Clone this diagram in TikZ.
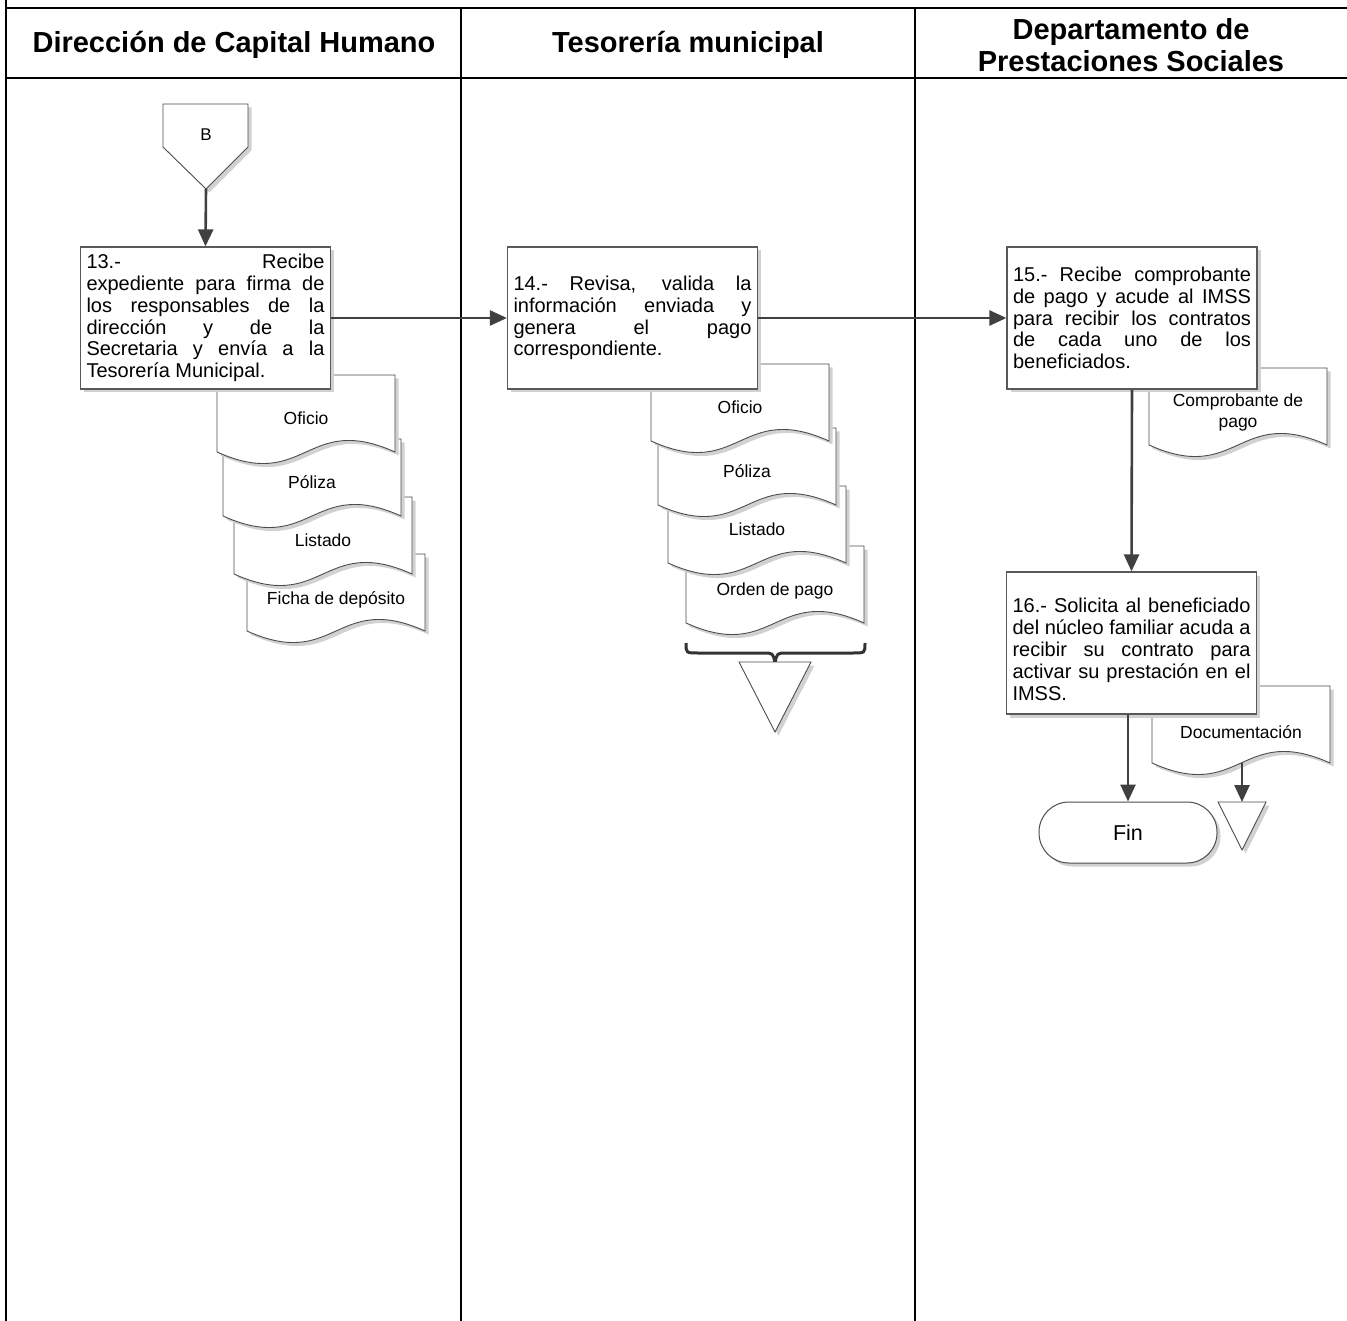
\documentclass[tikz,border=0pt]{standalone}
\usepackage{fontspec}
\setmainfont{Liberation Sans}
\usetikzlibrary{arrows.meta,shadows,calc}
\newcommand{\docu}[5][43]{%
  \begin{scope}[shift={(#3,#4)}]
    \path[docst] (0,0) -- (178,0) -- (178,77) .. controls (89,37) and (89,117) .. (0,77) -- cycle;
    \node[doclab] (#2) at (89,#1) {#5};
  \end{scope}}
\begin{document}
\begin{tikzpicture}[x=1pt,y=-1pt,
  lane/.style={line width=2.6pt,draw=black},
  shad/.style={drop shadow={shadow xshift=3.5pt,shadow yshift=-3.5pt,fill=black!18,opacity=1}},
  box/.style={draw=black!65,line width=1.2pt,fill=white,minimum width=250pt,minimum height=142pt,
    text width=238pt,inner xsep=6pt,align=justify,font=\fontsize{20}{21.8}\selectfont,shad},
  docst/.style={draw=black!70,line width=0.9pt,fill=white,shad},
  doclab/.style={font=\fontsize{17.5}{21}\selectfont,align=center},
  arr/.style={draw=black!75,line width=2.6pt,-{Triangle[length=17pt,width=15pt]}},
  brace/.style={draw=black!80,line width=3pt},
  head/.style={font=\fontsize{29}{32}\selectfont\bfseries,align=center}
]
\useasboundingbox (0,0) rectangle (1347,1321);

% frame
\draw[lane] (6,0) -- (6,1321);
\draw[lane] (6,8) -- (1347,8);
\draw[lane] (6,78) -- (1347,78);
\draw[lane] (461,8) -- (461,1321);
\draw[lane] (915,8) -- (915,1321);

% headers
\node[head] (h1) at (234,45) {Dirección de Capital Humano};
\node[head] (h2) at (688,45) {Tesorería municipal};
\node[head] (h3) at (1131,45) {Departamento de\\Prestaciones Sociales};

% off-page connector B
\path[docst] (163,104) -- (248,104) -- (248,147) -- (206,189) -- (163,147) -- cycle;
\node[font=\fontsize{17}{19}\selectfont] (B) at (206,135) {B};
\coordinate (Btip) at (206,189);

% lane 1 documents
\docu[46]{d1d}{247}{554}{Ficha de depósito}
\docu{d1c}{234}{497}{Listado}
\docu{d1b}{223}{439}{Póliza}
\docu{d1a}{217}{375}{Oficio}

% lane 2 documents
\docu[45]{d2d}{686}{546}{Orden de pago}
\docu{d2c}{668}{486}{Listado}
\docu{d2b}{658}{428}{Póliza}
\docu{d2a}{651}{364}{Oficio}
\path[brace] (686,643) .. controls (686,653) .. (698,653) -- (763,653)
  .. controls (773,653) .. (775,663) .. controls (777,653) .. (787,653) -- (853,653)
  .. controls (865,653) .. (865,643);
\path[docst] (739,662) -- (811,662) -- (775,732) -- cycle;
\coordinate (tri1) at (775,662);

% lane 3 documents
\docu[44]{d3a}{1149}{368}{Comprobante de\\pago}
\docu[46]{d3b}{1152}{686}{Documentación}
\coordinate (docend) at (1242,763);
\path[docst] (1218,802) -- (1266,802) -- (1242,850) -- cycle;
\coordinate (tri2) at (1242,802);

% process boxes
\node[box] (b13) at (205.5,318) {13.- Recibe\linebreak expediente para firma de\linebreak los responsables de la\linebreak dirección y de la\linebreak Secretaria y envía a la\linebreak Tesorería Municipal.};
\node[box] (b14) at (632.5,318) {14.- Revisa, valida la\linebreak información enviada y\linebreak genera el pago\linebreak correspondiente.};
\node[box] (b15) at (1132,318) {15.- Recibe comprobante\linebreak de pago y acude al IMSS\linebreak para recibir los contratos\linebreak de cada uno de los\linebreak beneficiados.};
\node[box] (b16) at (1131.5,643) {\rule{0pt}{27pt}16.- Solicita al beneficiado\linebreak del núcleo familiar acuda a\linebreak recibir su contrato para\linebreak activar su prestación en el\linebreak IMSS.};

% terminator
\node[draw=black!70,line width=1pt,rounded corners=30pt,minimum width=178pt,minimum height=61pt,
  fill=white,shad,font=\fontsize{21.5}{24}\selectfont] (fin) at (1128,832.5) {Fin};

% connectors
\draw[arr] (Btip) -- (b13.north);
\draw[arr] (b13.east) -- (b14.west);
\draw[arr] (b14.east) -- (b15.west);
\draw[arr] (b15.south) -- (b16.north);
\draw[arr] (b16.south -| fin.north) -- (fin.north);
\draw[arr] (docend) -- (tri2);
\end{tikzpicture}
\end{document}
